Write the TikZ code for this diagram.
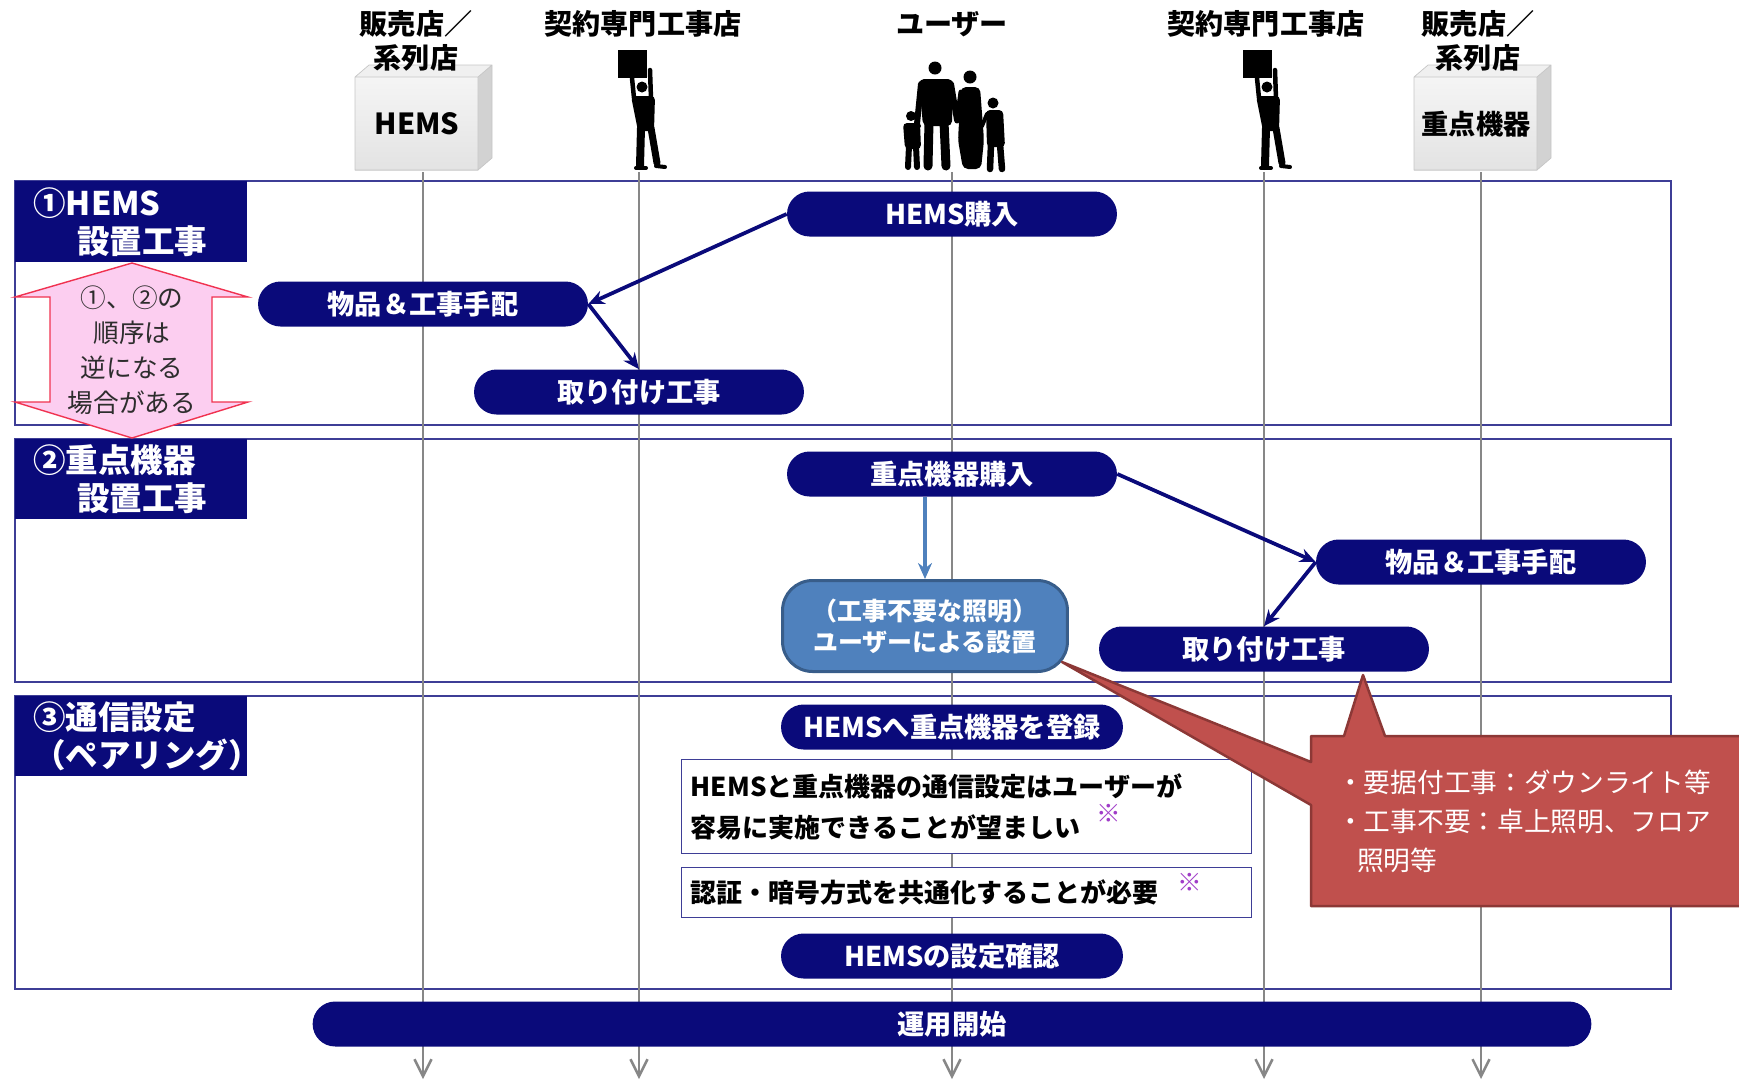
\documentclass[tikz,border=0pt]{standalone}
\usepackage{fontspec}
\setmainfont{Noto Sans CJK JP}
\usetikzlibrary{
  arrows.meta,
  shapes.misc
}

\definecolor{navyfill}{RGB}{10,10,122}
\definecolor{lanecol}{RGB}{62,62,150}
\definecolor{lifegray}{RGB}{135,135,135}
\definecolor{selfblue}{RGB}{79,129,189}
\definecolor{selfedge}{RGB}{56,93,138}
\definecolor{notered}{RGB}{192,80,77}
\definecolor{noteedge}{RGB}{140,56,54}
\definecolor{pinkfill}{RGB}{252,206,240}
\definecolor{pinkedge}{RGB}{240,50,80}
\definecolor{komecol}{RGB}{160,60,200}
\definecolor{darktext}{RGB}{45,45,45}

\begin{document}
\begin{tikzpicture}[x=0.02cm,y=-0.02cm,>=Stealth,
  pill/.style={rounded rectangle,fill=navyfill,text=white,
    font=\bfseries\fontsize{15.5}{18}\selectfont,
    minimum width=6.6cm,minimum height=0.9cm,inner sep=0pt},
  lane/.style={draw=lanecol,line width=1.1pt},
  lanelabel/.style={fill=navyfill,text=white,anchor=north west,
    font=\bfseries\fontsize{18.5}{21.6}\selectfont,
    text width=3.92cm,inner xsep=0.36cm,inner ysep=0pt,
    minimum height=1.62cm,align=left},
  who/.style={font=\bfseries\fontsize{16}{19.4}\selectfont,align=center},
  life/.style={draw=lifegray,line width=0.05cm,
    -{Straight Barb[length=0.34cm,width=0.34cm]}},
  flow/.style={draw=navyfill,line width=0.075cm,
    -{Stealth[length=0.32cm,width=0.28cm]}},
  notebox/.style={draw=lanecol,fill=white,line width=0.8pt,
    anchor=north west,align=left,inner xsep=0.18cm,inner ysep=0pt,
    text width=11.04cm,font=\bfseries\fontsize{14.8}{23.3}\selectfont},
  kome/.style={text=komecol,font=\mdseries\fontsize{14}{14}\selectfont},
  limb/.style={draw=black,line cap=round}
]

  \useasboundingbox (0,0) rectangle (1739,1083);

  % 工程ごとの枠
  \draw[lane] (15,181) rectangle (1671,425);
  \draw[lane] (15,439) rectangle (1671,682);
  \draw[lane] (15,696) rectangle (1671,989);

  % 立場ごとの縦線
  \coordinate (shopL) at (423,172);
  \coordinate (proL)  at (639,172);
  \coordinate (user)  at (952,172);
  \coordinate (proR)  at (1264,172);
  \coordinate (shopR) at (1481,172);

  \draw[life] (shopL) -- ++(0,907);
  \draw[life] (proL)  -- ++(0,907);
  \draw[life] (user)  -- ++(0,907);
  \draw[life] (proR)  -- ++(0,907);
  \draw[life] (shopR) -- ++(0,907);

  % 販売店（HEMS）
  \fill[gray!12] (355,77) -- (369,65) -- (492,65) -- (478,77) -- cycle;
  \fill[gray!35] (478,77) -- (492,65) -- (492,158) -- (478,170) -- cycle;
  \shade[top color=gray!8,bottom color=gray!22] (355,77) rectangle (478,170);
  \draw[gray!45,line width=0.4pt] (355,77) -- (369,65) -- (492,65) -- (492,158)
    -- (478,170) -- (355,170) -- cycle (355,77) -- (478,77) -- (492,65)
    (478,77) -- (478,170);
  \node[font=\bfseries\fontsize{16.5}{18}\selectfont] (hemsdev) at (417,124) {HEMS};

  % 販売店（重点機器）
  \fill[gray!12] (1414,77) -- (1428,65) -- (1551,65) -- (1537,77) -- cycle;
  \fill[gray!35] (1537,77) -- (1551,65) -- (1551,158) -- (1537,170) -- cycle;
  \shade[top color=gray!8,bottom color=gray!22] (1414,77) rectangle (1537,170);
  \draw[gray!45,line width=0.4pt] (1414,77) -- (1428,65) -- (1551,65) -- (1551,158)
    -- (1537,170) -- (1414,170) -- cycle (1414,77) -- (1537,77) -- (1551,65)
    (1537,77) -- (1537,170);
  \node[font=\bfseries\fontsize{15.5}{18}\selectfont] (keydev) at (1476,124) {重点機器};

  % 工事店（箱を持つ人）
  \begin{scope}[shift={(639,0)}]
    \fill (-21,50) rectangle (8,78);
    \fill (3,87) circle (5.5);
    \draw[limb,line width=0.09cm] (-7,78) -- (-5,98);
    \draw[limb,line width=0.09cm] (11,70) -- (12,99);
    \fill[rounded corners=0.08cm] (-8,96) -- (16,96) -- (15,131) -- (-1,131) -- cycle;
    \draw[limb,line width=0.16cm] (2,128) -- (1,166);
    \draw[limb,line width=0.14cm] (12,128) -- (18,163);
    \draw[limb,line width=0.08cm] (-3,168) -- (7,168);
    \draw[limb,line width=0.08cm] (17,166) -- (26,167);
  \end{scope}
  \begin{scope}[shift={(1264,0)}]
    \fill (-21,50) rectangle (8,78);
    \fill (3,87) circle (5.5);
    \draw[limb,line width=0.09cm] (-7,78) -- (-5,98);
    \draw[limb,line width=0.09cm] (11,70) -- (12,99);
    \fill[rounded corners=0.08cm] (-8,96) -- (16,96) -- (15,131) -- (-1,131) -- cycle;
    \draw[limb,line width=0.16cm] (2,128) -- (1,166);
    \draw[limb,line width=0.14cm] (12,128) -- (18,163);
    \draw[limb,line width=0.08cm] (-3,168) -- (7,168);
    \draw[limb,line width=0.08cm] (17,166) -- (26,167);
  \end{scope}

  % ユーザー（家族）
  \begin{scope}[shift={(952,0)}]
    % 父
    \fill (-17,68) circle (6.5);
    \fill[rounded corners=0.1cm] (-33,79) -- (1,79) -- (0,126) -- (-29,126) -- cycle;
    \draw[limb,line width=0.18cm] (-23,122) -- (-24,166);
    \draw[limb,line width=0.18cm] (-8,122) -- (-6,166);
    \draw[limb,line width=0.12cm] (-31,84) -- (-35,124);
    \draw[limb,line width=0.12cm] (-1,84) -- (5,120);
    % 母
    \fill (18,77) circle (6.5);
    \fill[rounded corners=0.1cm] (9,87) -- (28,87) -- (32,140) -- (29,169)
      -- (11,169) -- (6,140) -- cycle;
    \draw[limb,line width=0.1cm] (9,92) -- (5,121);
    % 子ども
    \fill (-41,116) circle (5);
    \fill[rounded corners=0.08cm] (-49,123) -- (-32,123) -- (-31,149) -- (-47,149) -- cycle;
    \draw[limb,line width=0.12cm] (-43,146) -- (-44,167);
    \draw[limb,line width=0.12cm] (-36,146) -- (-35,167);
    \draw[limb,line width=0.08cm] (-33,126) -- (-35,124);
    \fill (41,103) circle (5.5);
    \fill[rounded corners=0.08cm] (34,110) -- (51,110) -- (53,147) -- (35,147) -- cycle;
    \draw[limb,line width=0.13cm] (39,144) -- (38,169);
    \draw[limb,line width=0.13cm] (48,144) -- (50,169);
    \draw[limb,line width=0.08cm] (35,114) -- (30,126);
  \end{scope}

  % 立場の名前
  \node[who] (shopLtxt) at (416,41)  {販売店／\\系列店};
  \node[who] (proLtxt)  at (643,24)  {契約専門工事店};
  \node[who] (usertxt)  at (952,24)  {ユーザー};
  \node[who] (proRtxt)  at (1266,24) {契約専門工事店};
  \node[who] (shopRtxt) at (1478,41) {販売店／\\系列店};

  % 工程の見出し
  \node[lanelabel] (step1) at (15,181) {①HEMS\\\hspace*{1.35em}設置工事};
  \node[lanelabel,minimum height=1.6cm] (step2) at (15,439)
    {②重点機器\\\hspace*{1.35em}設置工事};
  \node[lanelabel,minimum height=1.6cm] (step3) at (15,696)
    {③通信設定\\（ペアリング）};

  % ①と②は入れ替わることがある
  \draw[draw=pinkedge,fill=pinkfill,line width=0.8pt]
    (132,263) -- (248,297) -- (212,297) -- (212,402) -- (248,402)
    -- (132,438) -- (15,402) -- (50,402) -- (50,297) -- (15,297) -- cycle;
  \node[text=darktext,align=center,font=\fontsize{14.6}{19.9}\selectfont]
    (ordernote) at (132,350) {①、②の\\順序は\\逆になる\\場合がある};

  % ① HEMS 設置工事
  \node[pill] (hemsbuy)  at (952,214) {HEMS購入};
  \node[pill] (order1)   at (423,304) {物品＆工事手配};
  \node[pill] (install1) at (639,392) {取り付け工事};

  \draw[flow] (hemsbuy.west) -- (order1.east);
  \draw[flow] (order1.east) -- (install1.north);

  % ② 重点機器設置工事
  \node[pill] (keybuy)   at (952,474)  {重点機器購入};
  \node[pill] (order2)   at (1481,562) {物品＆工事手配};
  \node[pill] (install2) at (1264,649) {取り付け工事};

  \node[fill=selfblue,draw=selfedge,line width=0.06cm,rounded corners=0.6cm,
    minimum width=5.7cm,minimum height=1.82cm,text=white,align=center,
    font=\bfseries\fontsize{14.2}{17.6}\selectfont]
    (selfinst) at (925,626) {（工事不要な照明）\\ユーザーによる設置};

  \draw[flow] (keybuy.east) -- (order2.west);
  \draw[flow] (order2.west) -- (install2.north);
  \draw[draw=selfblue,line width=0.07cm,-{Stealth[length=0.32cm,width=0.28cm]}]
    (keybuy.south -| selfinst.north) -- (selfinst.north);

  % ③ 通信設定（ペアリング）
  \node[pill,minimum width=6.84cm] (register) at (952,727) {HEMSへ重点機器を登録};
  \node[notebox,minimum width=11.4cm,minimum height=1.88cm] (easyset) at (681,759)
    {HEMSと重点機器の通信設定はユーザーが\\
     容易に実施できることが望ましい};
  \node[kome] (kome1) at (1109,813) {※};
  \node[notebox,minimum width=11.4cm,minimum height=1.0cm] (common) at (681,867)
    {認証・暗号方式を共通化することが必要};
  \node[kome] (kome2) at (1190,882) {※};
  \node[pill,minimum width=6.84cm] (check) at (952,956) {HEMSの設定確認};

  % 運用開始
  \node[pill,minimum width=25.58cm] (start) at (952,1024) {運用開始};

  % 照明の種類についての吹き出し
  \filldraw[fill=notered,draw=noteedge,line width=0.05cm,line join=round]
    (1311,736) -- (1344,736) -- (1363,675) -- (1385,736) -- (1745,736)
    -- (1745,906) -- (1311,906) -- (1311,805) -- (1062,662) -- (1311,762) -- cycle;
  \node[text=white,anchor=west,align=left,font=\fontsize{15.2}{22.2}\selectfont]
    (lightnote) at (1331,821)
    {・要据付工事：ダウンライト等\\・工事不要：卓上照明、フロア\\\hspace*{0.75em}照明等};

\end{tikzpicture}
\end{document}
